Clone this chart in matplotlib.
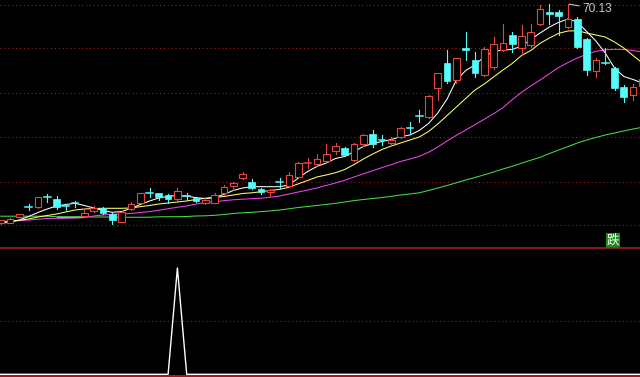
import matplotlib
matplotlib.use('Agg')
import matplotlib.pyplot as plt
from matplotlib.patches import Rectangle
from matplotlib.lines import Line2D
import matplotlib.transforms as mtransforms

# ---------------- data ----------------
opens = [26.33, 26.43, 27.53, 29.63, 29.47, 31.53, 31.13, 29.83, 30.33, 27.73,
         28.79, 29.27, 28.23, 26.63, 29.13, 30.39, 32.37, 32.33, 31.93, 31.07,
         31.77, 31.39, 30.33, 30.43, 32.27, 33.73, 35.43, 34.59, 33.13, 32.47,
         34.53, 33.73, 35.59, 38.37, 38.13, 38.73, 40.73, 41.27, 39.03, 42.07,
         44.23, 42.89, 42.43, 43.47, 45.33, 47.73, 47.47, 53.33, 58.39, 54.93,
         61.43, 58.93, 56.03, 57.63, 60.93, 63.93, 61.27, 61.93, 66.07, 68.53,
         68.59, 65.47, 67.13, 63.07, 56.79, 58.47, 57.27, 53.47, 51.93, 53.73]

closes = [26.93, 27.23, 28.07, 29.53, 31.47, 31.43, 29.53, 29.73, 30.23, 28.27,
          29.27, 28.27, 27.03, 28.53, 30.07, 32.27, 32.29, 31.53, 31.13, 32.73,
          31.69, 30.73, 31.03, 32.03, 33.47, 34.39, 36.07, 33.27, 32.47, 33.03,
          34.43, 35.93, 38.39, 38.43, 39.07, 40.13, 41.73, 39.93, 42.13, 43.93,
          42.07, 42.81, 43.03, 45.27, 45.21, 47.61, 51.73, 56.27, 54.73, 59.27,
          60.93, 56.39, 61.07, 62.13, 62.33, 62.13, 63.73, 64.53, 69.07, 68.23,
          67.73, 67.07, 61.53, 56.93, 58.93, 58.33, 53.27, 51.59, 53.63, 55.13]

highs = [27.03, 27.33, 28.23, 30.13, 31.53, 32.13, 31.73, 30.13, 30.79, 29.07,
         29.73, 29.53, 28.33, 28.73, 30.53, 32.33, 33.27, 32.43, 32.13, 33.27,
         32.33, 31.63, 31.33, 32.43, 34.03, 34.63, 36.63, 35.07, 33.27, 33.07,
         35.43, 36.53, 38.63, 39.27, 40.07, 42.13, 42.27, 41.47, 42.27, 44.07,
         44.93, 43.93, 43.53, 45.47, 46.59, 49.03, 51.93, 56.43, 60.93, 59.39,
         64.53, 60.59, 61.53, 63.53, 66.13, 64.53, 65.93, 66.23, 70.03, 70.09,
         68.93, 70.13, 67.59, 63.27, 59.27, 61.27, 57.53, 53.93, 54.23, 55.33]

lows = [26.13, 26.33, 27.13, 29.03, 29.43, 30.59, 29.23, 28.93, 29.59, 27.63,
        28.59, 28.13, 26.13, 26.53, 28.93, 30.33, 31.53, 30.93, 30.43, 31.03,
        31.03, 30.53, 30.13, 30.33, 31.93, 32.93, 35.23, 33.13, 32.13, 31.73,
        33.43, 33.53, 35.43, 37.27, 37.73, 38.53, 40.13, 39.79, 38.83, 41.79,
        41.53, 42.03, 42.03, 43.27, 44.23, 46.53, 47.27, 50.93, 54.27, 54.27,
        58.93, 55.59, 55.83, 57.13, 60.83, 60.59, 59.93, 61.63, 65.93, 66.13,
        63.93, 65.43, 61.27, 55.93, 55.59, 58.13, 52.93, 50.59, 50.93, 53.53]

ma5 = [26.23, 26.53, 26.93, 27.63, 28.43, 29.13, 29.73, 30.03, 30.27, 29.83,
       29.33, 28.83, 28.47, 28.63, 29.23, 30.03, 30.73, 31.33, 31.67, 31.83,
       31.73, 31.39, 31.23, 31.43, 32.03, 32.83, 33.33, 33.59, 33.59, 33.59,
       33.59, 33.93, 35.33, 36.63, 37.63, 38.33, 39.23, 39.63, 40.63, 41.63,
       42.23, 42.63, 43.03, 43.59, 43.93, 44.83, 46.23, 48.33, 51.13, 54.93,
       56.83, 57.93, 59.63, 60.63, 60.93, 61.03, 61.73, 63.03, 64.33, 65.53,
       66.47, 67.13, 66.53, 64.63, 62.73, 60.33, 57.33, 55.63, 55.03, 54.33]

ma10 = [26.59, 26.73, 26.87, 27.13, 27.53, 27.83, 28.13, 28.53, 28.93, 29.13,
        29.23, 29.27, 29.27, 29.27, 29.33, 29.59, 29.83, 30.13, 30.33, 30.53,
        30.73, 31.03, 31.27, 31.43, 31.63, 31.93, 32.23, 32.37, 32.59, 32.83,
        33.07, 33.47, 34.17, 34.83, 35.53, 35.93, 36.39, 37.03, 38.03, 39.13,
        40.13, 41.03, 41.73, 42.33, 42.93, 43.53, 44.63, 46.13, 47.83, 49.53,
        51.23, 52.93, 54.13, 55.53, 56.93, 58.23, 59.83, 60.83, 62.27, 63.33,
        64.27, 64.73, 64.79, 64.33, 63.93, 63.53, 62.53, 61.33, 59.81, 58.33]

ma20 = [26.53, 26.63, 26.79, 26.93, 27.07, 27.23, 27.27, 27.27, 27.33, 27.43,
        27.73, 27.93, 28.07, 28.13, 28.23, 28.43, 28.63, 28.87, 29.19, 29.47,
        29.73, 30.13, 30.39, 30.59, 30.79, 30.97, 31.09, 31.19, 31.29, 31.49,
        31.73, 32.13, 32.53, 32.93, 33.33, 33.83, 34.33, 34.89, 35.53, 36.17,
        36.79, 37.41, 38.01, 38.63, 39.13, 39.67, 40.47, 41.53, 42.73, 43.87,
        44.93, 45.99, 47.09, 48.19, 49.39, 50.99, 52.47, 53.73, 54.93, 56.19,
        57.43, 58.43, 59.33, 60.07, 60.67, 60.97, 61.07, 61.03, 60.81, 60.53]

ma60 = [27.69, 27.69, 27.69, 27.69, 27.69, 27.69, 27.59, 27.59, 27.59, 27.59,
        27.53, 27.53, 27.53, 27.49, 27.47, 27.47, 27.49, 27.57, 27.59, 27.59,
        27.63, 27.73, 27.77, 27.87, 28.03, 28.23, 28.37, 28.47, 28.61, 28.75,
        28.93, 29.17, 29.43, 29.63, 29.83, 30.05, 30.27, 30.53, 30.81, 31.03,
        31.23, 31.43, 31.67, 31.93, 32.13, 32.37, 32.83, 33.33, 33.83, 34.37,
        34.93, 35.43, 35.97, 36.53, 37.13, 37.67, 38.29, 38.89, 39.47, 40.23,
        40.93, 41.61, 42.33, 42.93, 43.43, 43.93, 44.33, 44.73, 45.13, 45.47]

ma60_gray_span = (6, 9)          # part of the long MA drawn in gray

signal = [0] * 70
signal[19] = 1                   # lower indicator spike

signal_label = "跌"
signal_label_idx = 65

# ---------------- styling ----------------
RED = '#e8463a'
CYAN = '#54fcfc'
GRID = '#961e1e'
n = len(opens)
xs = list(range(n))

fig = plt.figure(figsize=(6.4, 3.77), dpi=100, facecolor='black')
H = 377.0
top_h = 248.0
ax = fig.add_axes([0, 1 - top_h / H, 1, top_h / H])
ax2 = fig.add_axes([0, 0, 1, 1 - top_h / H])
for a in (ax, ax2):
    a.set_facecolor('black')
    a.set_xticks([])
    a.set_yticks([])
    for s in a.spines.values():
        s.set_visible(False)

spacing = 9.3
x_left = -0.7 / spacing
x_right = (640 - 0.7) / spacing
ax.set_xlim(x_left, x_right)
ax2.set_xlim(x_left, x_right)

y_top, y_bot = 70.93, 70.93 - 0.2 * top_h
ax.set_ylim(y_bot, y_top)

# dotted grid lines (upper)
for gp in [69.93, 61.27, 52.39, 43.53, 34.59, 25.87]:
    ax.axhline(gp, color=GRID, lw=0.8, ls=(0, (1, 2.5)), zorder=0)

# moving averages
LW = 0.75
ax.plot(xs, ma60, color='#44dd44', lw=LW, zorder=2)
g0, g1 = ma60_gray_span
ax.plot(xs[g0:g1 + 1], ma60[g0:g1 + 1], color='#a8a8a8', lw=LW + 0.1, zorder=2.1)
ax.plot(xs, ma20, color='#ee44ee', lw=LW, zorder=2)
ax.plot(xs, ma10, color='#ffff66', lw=LW, zorder=2)
ax.plot(xs, ma5, color='white', lw=LW, zorder=2)

# candles
bw = 0.72
for i in range(n):
    o, c, h, l = opens[i], closes[i], highs[i], lows[i]
    up = c >= o
    col = RED if up else CYAN
    top = max(o, c)
    bot = min(o, c)
    if top - bot < 0.25:
        ax.plot([i - bw / 2, i + bw / 2], [(o + c) / 2] * 2, color=col, lw=1.1, zorder=4)
        ax.plot([i, i], [l, h], color=col, lw=0.8, zorder=4)
        continue
    if up:
        ax.plot([i, i], [top, h], color=col, lw=0.8, zorder=4)
        ax.plot([i, i], [l, bot], color=col, lw=0.8, zorder=4)
        ax.add_patch(Rectangle((i - bw / 2, bot), bw, top - bot, facecolor='black',
                               edgecolor=col, lw=0.8, zorder=4))
    else:
        ax.plot([i, i], [l, h], color=col, lw=0.8, zorder=4)
        ax.add_patch(Rectangle((i - bw / 2, bot), bw, top - bot, facecolor=col,
                               edgecolor=col, lw=0.5, zorder=4))

# high label
imax = max(range(n), key=lambda k: highs[k])
ax.annotate(f"{highs[imax]:.2f}", xy=(imax, highs[imax]), xytext=(10, -3.5),
            textcoords='offset points', color='#c8c8c8', fontsize=8.6,
            family='Liberation Sans', va='center', ha='left',
            arrowprops=dict(arrowstyle='-', color='#c8c8c8', lw=0.8,
                            shrinkA=0, shrinkB=1), zorder=6)

# signal label box
trans = mtransforms.blended_transform_factory(ax.transData, ax.transAxes)
ax.text(signal_label_idx + 0.15, 0.031, signal_label, transform=trans, color='white',
        fontsize=9, family=['Noto Sans CJK SC', 'DejaVu Sans'], ha='left', va='center',
        bbox=dict(boxstyle='square,pad=0.08', facecolor='#1c8c1c', edgecolor='none'),
        zorder=6)

# lower panel
lo_bot, lo_top = -0.0254, 1.188
ax2.set_ylim(lo_bot, lo_top)
ax2.axhline(0.5, color=GRID, lw=0.8, ls=(0, (1, 2.5)), zorder=0)
ax2.plot(xs, signal, color='white', lw=1.0, zorder=3)
ax2.axhline(-0.017, color='#c02020', lw=1.2, zorder=2)

# panel divider
fig.add_artist(Line2D([0, 1], [1 - top_h / H, 1 - top_h / H], color='#a52020', lw=1.2,
                      transform=fig.transFigure))

fig.savefig('out.png', dpi=100, facecolor='black')
